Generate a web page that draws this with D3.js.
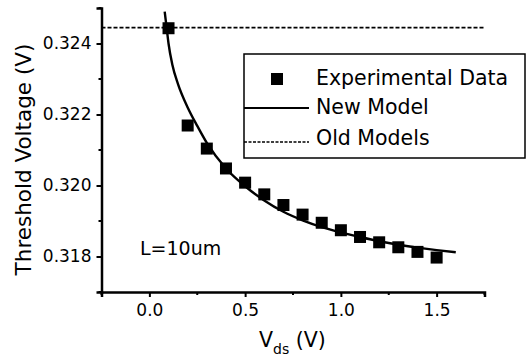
<!DOCTYPE html>
<html>
<head>
<meta charset="utf-8">
<script src="https://cdn.jsdelivr.net/npm/d3@7"></script>
<style>
  body { margin: 0; background: #fff; }
  svg { display: block; font-family: "DejaVu Sans", sans-serif; }
</style>
</head>
<body>
<svg id="chart" width="526" height="360"></svg>
<script>
// experimental points (Vds in V, threshold voltage in V)
const vds = [0.1, 0.2, 0.3, 0.4, 0.5, 0.6, 0.7, 0.8, 0.9, 1.0, 1.1, 1.2, 1.3, 1.4, 1.5];
const vth = [0.32443, 0.32169, 0.32104, 0.32048, 0.32008, 0.31975, 0.31945, 0.31918,
             0.31895, 0.31874, 0.31855, 0.3184, 0.31826, 0.31813, 0.31797];

// new model curve
const modelX = [0.08, 0.09, 0.1, 0.12, 0.15, 0.2, 0.25, 0.3, 0.4, 0.5, 0.6, 0.7, 0.8,
                0.9, 1.0, 1.1, 1.2, 1.3, 1.4, 1.5, 1.6];
const modelY = [0.3249, 0.32445, 0.3240, 0.3234, 0.32285, 0.3222, 0.32168, 0.3212, 0.32048,
                0.31998, 0.31958, 0.31926, 0.31902, 0.31883, 0.31868, 0.31855, 0.31843,
                0.31833, 0.31825, 0.31818, 0.31812];

// old models: flat line
const oldModel = 0.32445;

const xTicks = [0, 0.5, 1.0, 1.5];
const xMinor = [-0.25, 0.25, 0.75, 1.25, 1.75];
const yTicks = [0.318, 0.320, 0.322, 0.324];
const yMinor = [0.317, 0.319, 0.321, 0.323, 0.325];

const svg = d3.select('#chart');

const x = d3.scaleLinear().domain([-0.25, 1.75]).range([101.5, 484.5]);
const y = d3.scaleLinear().domain([0.317, 0.325]).range([292, 8]);

// old models dashed line
svg.append('line')
    .attr('x1', x(-0.25)).attr('x2', x(1.75))
    .attr('y1', y(oldModel)).attr('y2', y(oldModel))
    .attr('stroke', '#000')
    .attr('stroke-width', 1.8)
    .attr('stroke-dasharray', '4,2');

// new model curve
const line = d3.line()
    .x((d, i) => x(modelX[i]))
    .y(d => y(d))
    .curve(d3.curveMonotoneX);

svg.append('path')
    .attr('d', line(modelY))
    .attr('fill', 'none')
    .attr('stroke', '#000')
    .attr('stroke-width', 2.4);

// experimental squares
const sq = 12;
svg.selectAll('rect.pt')
    .data(vds)
    .join('rect')
    .attr('class', 'pt')
    .attr('x', d => x(d) - sq / 2)
    .attr('y', (d, i) => y(vth[i]) - sq / 2)
    .attr('width', sq)
    .attr('height', sq)
    .attr('fill', '#000');

// axes
const xAxis = svg.append('g')
    .attr('transform', `translate(0,${y(0.317)})`)
    .call(d3.axisBottom(x).tickValues(xTicks).tickSize(5).tickPadding(7)
        .tickFormat(d3.format('.1f')));
xAxis.append('g').selectAll('line')
    .data(xMinor)
    .join('line')
    .attr('x1', d => x(d)).attr('x2', d => x(d))
    .attr('y1', 0).attr('y2', 3)
    .attr('stroke', '#000').attr('stroke-width', 2);

const yAxis = svg.append('g')
    .attr('transform', `translate(${x(-0.25)},0)`)
    .call(d3.axisLeft(y).tickValues(yTicks).tickSize(5).tickPadding(5)
        .tickFormat(d3.format('.3f')));
yAxis.append('g').selectAll('line')
    .data(yMinor)
    .join('line')
    .attr('y1', d => y(d)).attr('y2', d => y(d))
    .attr('x1', 0).attr('x2', -3)
    .attr('stroke', '#000').attr('stroke-width', 2);

[xAxis, yAxis].forEach(g => {
    g.select('.domain').attr('stroke-width', 2.5);
    g.selectAll('.tick line').attr('stroke-width', 2);
    g.selectAll('.tick text')
        .attr('font-family', '"DejaVu Sans", sans-serif')
        .attr('font-size', 17)
        .attr('fill', '#000');
});

// axis titles
svg.append('text')
    .attr('transform', 'translate(31,159.5) rotate(-90)')
    .attr('text-anchor', 'middle')
    .attr('font-size', 21.5)
    .text('Threshold Voltage (V)');

const xl = svg.append('text')
    .attr('x', 259)
    .attr('y', 347)
    .attr('font-size', 20.5);
xl.append('tspan').text('V');
xl.append('tspan').attr('font-size', 14).attr('dy', 7).text('ds');
xl.append('tspan').attr('dy', -7).text(' (V)');

// annotation
svg.append('text')
    .attr('x', 140)
    .attr('y', 255)
    .attr('font-size', 19)
    .text('L=10um');

// legend
const legend = svg.append('g');
legend.append('rect')
    .attr('x', 244).attr('y', 54)
    .attr('width', 281).attr('height', 104)
    .attr('fill', '#fff')
    .attr('stroke', '#000')
    .attr('stroke-width', 1.5);

const legendItems = ['Experimental Data', 'New Model', 'Old Models'];
const legendBase = [85, 114, 145];

legend.append('rect')
    .attr('x', 277 - sq / 2).attr('y', 79 - sq / 2)
    .attr('width', sq).attr('height', sq)
    .attr('fill', '#000');
legend.append('line')
    .attr('x1', 244).attr('x2', 309)
    .attr('y1', 108).attr('y2', 108)
    .attr('stroke', '#000').attr('stroke-width', 2);
legend.append('line')
    .attr('x1', 244).attr('x2', 309)
    .attr('y1', 142).attr('y2', 142)
    .attr('stroke', '#000').attr('stroke-width', 1.5)
    .attr('stroke-dasharray', '3,1.5');

legend.selectAll('text.item')
    .data(legendItems)
    .join('text')
    .attr('class', 'item')
    .attr('x', 316)
    .attr('y', (d, i) => legendBase[i])
    .attr('font-size', 20.5)
    .text(d => d);
</script>
</body>
</html>
